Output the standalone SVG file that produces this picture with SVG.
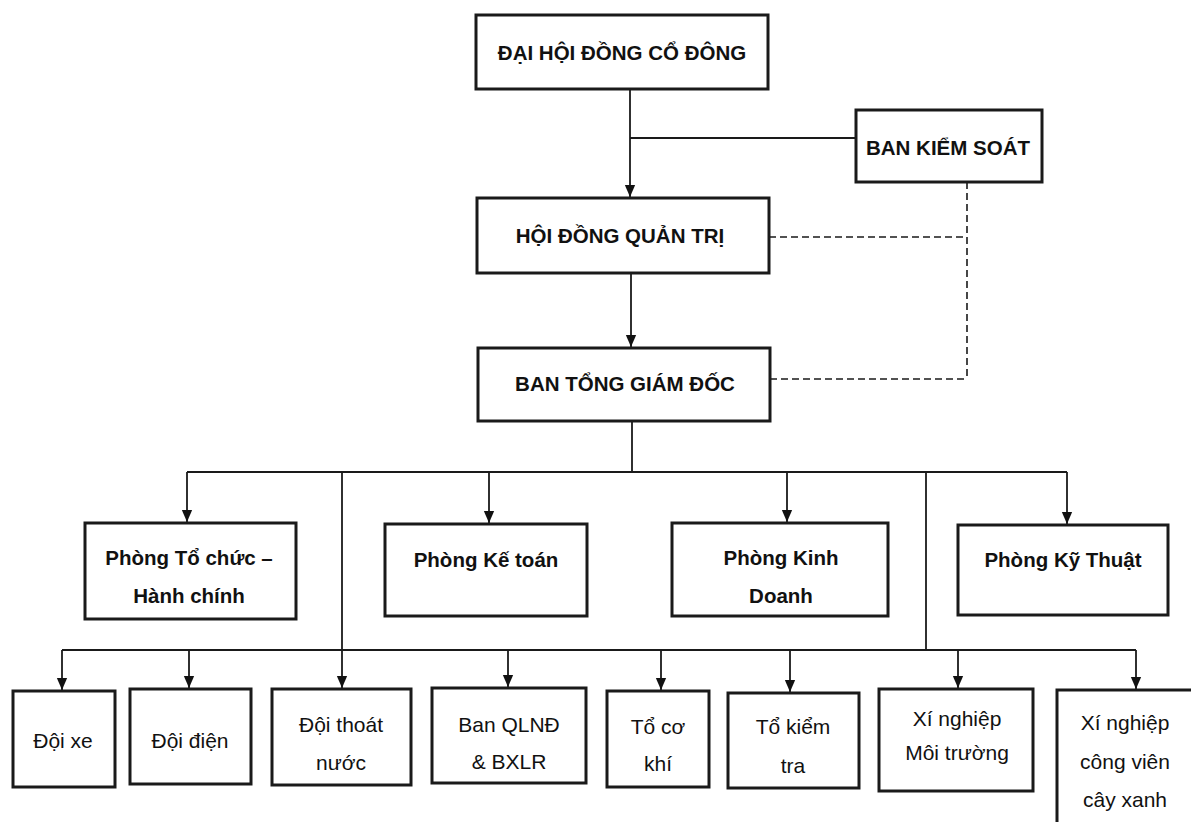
<svg xmlns="http://www.w3.org/2000/svg" width="1191" height="822" viewBox="0 0 1191 822">
<style>
.box{fill:#fff;stroke:#1a1a1a;stroke-width:3}
.t{font-family:"Liberation Sans",Arial,sans-serif;font-weight:bold;font-size:20.5px;fill:#111;text-anchor:middle}
.r{font-family:"Liberation Sans",Arial,sans-serif;font-size:21px;fill:#111;text-anchor:middle}
.ln{stroke:#1a1a1a;stroke-width:1.8;fill:none}
.dash{stroke:#1a1a1a;stroke-width:1.6;fill:none;stroke-dasharray:7,4}
</style>
<defs>
<marker id="a" markerWidth="12" markerHeight="16" refX="14" refY="6" orient="auto" markerUnits="userSpaceOnUse" viewBox="0 0 14 12">
<path d="M0,0 L14,6 L0,12 Z" fill="#111"/>
</marker>
</defs>
<rect width="1191" height="822" fill="#fff"/>
<g id="connectors">
<line class="ln" x1="630" y1="89" x2="630" y2="197" marker-end="url(#a)"/>
<line class="ln" x1="630" y1="138" x2="856" y2="138"/>
<line class="dash" x1="769" y1="237" x2="967" y2="237"/>
<line class="dash" x1="770" y1="379" x2="967" y2="379"/>
<line class="dash" x1="967" y1="182" x2="967" y2="379"/>
<line class="ln" x1="631" y1="273" x2="631" y2="347" marker-end="url(#a)"/>
<line class="ln" x1="632" y1="421" x2="632" y2="472"/>
<line class="ln" x1="187" y1="472" x2="1067" y2="472"/>
<line class="ln" x1="187" y1="472" x2="187" y2="522" marker-end="url(#a)"/>
<line class="ln" x1="489" y1="472" x2="489" y2="523" marker-end="url(#a)"/>
<line class="ln" x1="787" y1="472" x2="787" y2="522" marker-end="url(#a)"/>
<line class="ln" x1="1067" y1="472" x2="1067" y2="524" marker-end="url(#a)"/>
<line class="ln" x1="342" y1="472" x2="342" y2="688" marker-end="url(#a)"/>
<line class="ln" x1="926" y1="472" x2="926" y2="650"/>
<line class="ln" x1="62" y1="650" x2="1136" y2="650"/>
<line class="ln" x1="62" y1="650" x2="62" y2="690" marker-end="url(#a)"/>
<line class="ln" x1="189" y1="650" x2="189" y2="688" marker-end="url(#a)"/>
<line class="ln" x1="508" y1="650" x2="508" y2="687" marker-end="url(#a)"/>
<line class="ln" x1="661" y1="650" x2="661" y2="690" marker-end="url(#a)"/>
<line class="ln" x1="790" y1="650" x2="790" y2="692" marker-end="url(#a)"/>
<line class="ln" x1="958" y1="650" x2="958" y2="688" marker-end="url(#a)"/>
<line class="ln" x1="1136" y1="650" x2="1136" y2="689" marker-end="url(#a)"/>
</g>
<g id="dhdcd"><rect class="box" x="476" y="15" width="292" height="74"/><text class="t" x="622" y="60">ĐẠI HỘI ĐỒNG CỔ ĐÔNG</text></g>
<g id="bks"><rect class="box" x="856" y="110" width="186" height="72"/><text class="t" x="948" y="155">BAN KIỂM SOÁT</text></g>
<g id="hdqt"><rect class="box" x="477" y="198" width="292" height="75"/><text class="t" x="620" y="243">HỘI ĐỒNG QUẢN TRỊ</text></g>
<g id="btgd"><rect class="box" x="478" y="348" width="292" height="73"/><text class="t" x="625" y="391">BAN TỔNG GIÁM ĐỐC</text></g>
<g id="tchc"><rect class="box" x="85" y="523" width="211" height="96"/><text class="t" x="189" y="565">Phòng Tổ chức –</text><text class="t" x="189" y="603">Hành chính</text></g>
<g id="kt"><rect class="box" x="385" y="524" width="202" height="92"/><text class="t" x="486" y="567">Phòng Kế toán</text></g>
<g id="kd"><rect class="box" x="672" y="523" width="216" height="93"/><text class="t" x="781" y="565">Phòng Kinh</text><text class="t" x="781" y="603">Doanh</text></g>
<g id="kythuat"><rect class="box" x="958" y="525" width="210" height="90"/><text class="t" x="1063" y="567">Phòng Kỹ Thuật</text></g>
<g id="doixe"><rect class="box" x="13" y="691" width="102" height="96"/><text class="r" x="63" y="748">Đội xe</text></g>
<g id="doidien"><rect class="box" x="130" y="689" width="121" height="95"/><text class="r" x="190" y="748">Đội điện</text></g>
<g id="doithoatnuoc"><rect class="box" x="272" y="689" width="139" height="96"/><text class="r" x="341" y="732">Đội thoát</text><text class="r" x="341" y="770">nước</text></g>
<g id="banqlnd"><rect class="box" x="432" y="688" width="154" height="95"/><text class="r" x="509" y="732">Ban QLNĐ</text><text class="r" x="509" y="769">&amp; BXLR</text></g>
<g id="tocokhi"><rect class="box" x="607" y="691" width="102" height="96"/><text class="r" x="658" y="734">Tổ cơ</text><text class="r" x="658" y="771">khí</text></g>
<g id="tokiemtra"><rect class="box" x="728" y="693" width="131" height="95"/><text class="r" x="793" y="734">Tổ kiểm</text><text class="r" x="793" y="773">tra</text></g>
<g id="xnmt"><rect class="box" x="879" y="689" width="154" height="102"/><text class="r" x="957" y="726">Xí nghiệp</text><text class="r" x="957" y="760">Môi trường</text></g>
<g id="xncvcx"><rect class="box" x="1057" y="690" width="146" height="150"/><text class="r" x="1125" y="730">Xí nghiệp</text><text class="r" x="1125" y="769">công viên</text><text class="r" x="1125" y="807">cây xanh</text></g>
</svg>
